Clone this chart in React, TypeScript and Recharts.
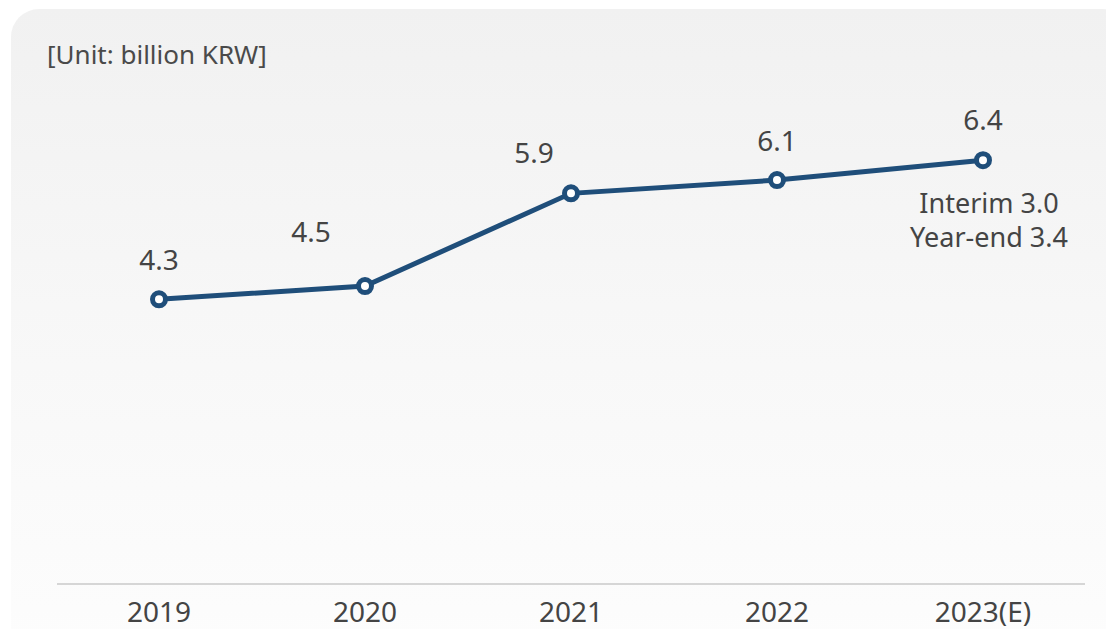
import { LineChart, Line, XAxis, YAxis, LabelList } from "recharts";

const years = ["2019", "2020", "2021", "2022", "2023(E)"];
const dividends = [4.3, 4.5, 5.9, 6.1, 6.4];
const notes = ["", "", "", "", "Interim 3.0|Year-end 3.4"];

const FONT = '"Noto Sans", "Noto Sans CJK KR", sans-serif';
const INK = "#444444";
const LINE = "#1f4e7a";

// label nudges so values don't sit on the line
const labelShift = [
  { dx: 0, dy: -40 },
  { dx: -54, dy: -55 },
  { dx: -37, dy: -41 },
  { dx: 0, dy: -40 },
  { dx: 0, dy: -41 }
];

const data = years.map((year, i) => ({ year, value: dividends[i], note: notes[i] }));

function ValueLabel(props: any) {
  const { x, y, value, index } = props;
  const shift = labelShift[index] ?? { dx: 0, dy: -40 };
  const note = notes[index];
  return (
    <g>
      <text
        x={x + shift.dx}
        y={y + shift.dy}
        textAnchor="middle"
        dominantBaseline="central"
        fontFamily={FONT}
        fontSize={28}
        fill={INK}
      >
        {value.toFixed(1)}
      </text>
      {note
        ? note.split("|").map((line, k) => (
            <text
              key={k}
              x={x + 6}
              y={y + 42 + k * 34}
              textAnchor="middle"
              dominantBaseline="central"
              fontFamily={FONT}
              fontSize={27}
              fill={INK}
            >
              {line}
            </text>
          ))
        : null}
    </g>
  );
}

export default function App() {
  return (
    <div style={{ position: "absolute", left: 0, top: 0, width: 1106, height: 629, overflow: "hidden", background: "#fff" }}>
      <div
        style={{
          position: "absolute",
          left: 11,
          top: 9,
          width: 1120,
          height: 660,
          borderRadius: 28,
          background: "linear-gradient(to bottom, #f1f1f1 0%, #f7f7f7 45%, #fdfdfd 100%)"
        }}
      />
      <div
        style={{
          position: "absolute",
          left: 47,
          top: 37,
          fontFamily: FONT,
          fontSize: 26,
          color: "#4a4a4a",
          lineHeight: "34px"
        }}
      >
        [Unit: billion KRW]
      </div>
      <div style={{ position: "absolute", left: 0, top: 0 }}>
        <LineChart width={1106} height={629} data={data} margin={{ top: 0, right: 21, bottom: 0, left: 57 }}>
          <XAxis
            dataKey="year"
            height={45}
            padding={{ left: 102, right: 102 }}
            axisLine={{ stroke: "#d6d6d6", strokeWidth: 2 }}
            tickLine={false}
            tickSize={0}
            tickMargin={18}
            interval={0}
            tick={{ fontSize: 28, fill: INK, fontFamily: FONT }}
          />
          <YAxis hide domain={[0, 8.82]} width={0} />
          <Line
            type="linear"
            dataKey="value"
            stroke={LINE}
            strokeWidth={5}
            dot={{ r: 6.5, stroke: LINE, strokeWidth: 5, fill: "#ffffff" }}
            activeDot={false}
            isAnimationActive={false}
          >
            <LabelList dataKey="value" content={ValueLabel} />
          </Line>
        </LineChart>
      </div>
    </div>
  );
}
